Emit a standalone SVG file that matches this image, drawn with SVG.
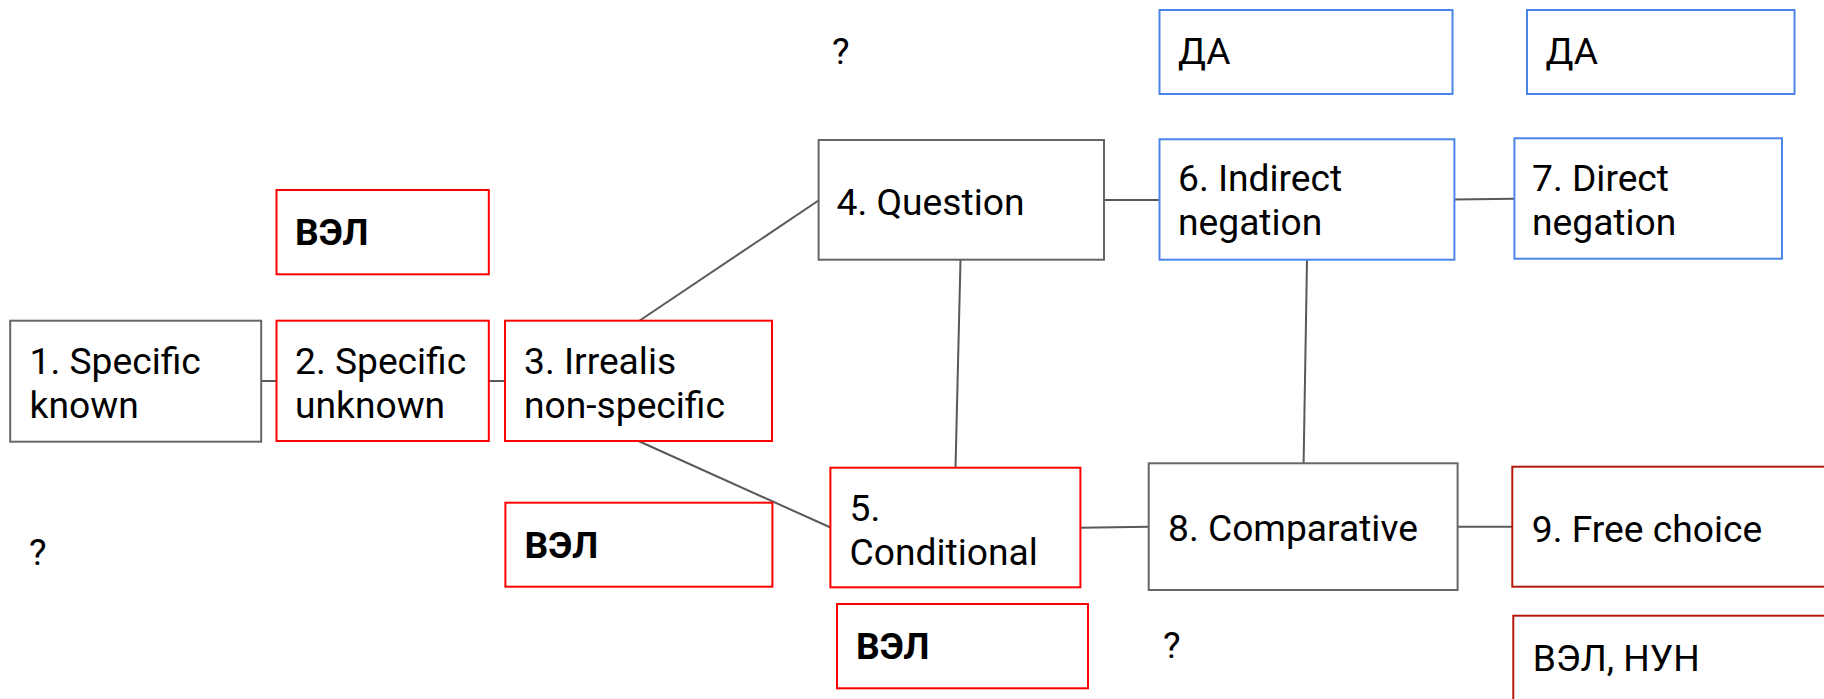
<svg xmlns="http://www.w3.org/2000/svg" width="1824" height="699" viewBox="0 0 1824 699">
<style>
  rect { fill: #ffffff; stroke-width: 2; }
  .g { stroke: #666666; }
  .r { stroke: #ff0000; }
  .b { stroke: #4a86e8; }
  .d { stroke: #b5170d; }
  text { font-family: Roboto, "Liberation Sans", "Noto Sans", sans-serif; font-size: 37.2px; fill: #000000; }
  .bold { font-weight: bold; }
  #connectors line { stroke: #595959; stroke-width: 2; }
</style>
<rect x="0" y="0" width="1824" height="699" style="fill:#ffffff;stroke:none"/>
<g id="connectors">
  <line x1="261" y1="381" x2="277" y2="381"/>
  <line x1="489" y1="381" x2="505" y2="381"/>
  <line x1="639" y1="321" x2="818.5" y2="200.5"/>
  <line x1="638.5" y1="441" x2="830.5" y2="527.5"/>
  <line x1="1104" y1="200" x2="1159.5" y2="200"/>
  <line x1="1454.5" y1="199.5" x2="1514.5" y2="198.7"/>
  <line x1="960.5" y1="260" x2="955.5" y2="468"/>
  <line x1="1307" y1="260" x2="1303.6" y2="463.5"/>
  <line x1="1080.5" y1="527.7" x2="1149" y2="526.8"/>
  <line x1="1457.6" y1="526.7" x2="1512.3" y2="526.7"/>
</g>
<g id="q-top"><text x="832" y="64">?</text></g>
<g id="q-left"><text x="29" y="565">?</text></g>
<g id="q-mid"><text x="1163" y="658">?</text></g>
<g id="da-6"><rect class="b" x="1159.5" y="10" width="293" height="84"/><text x="1178" y="64">ДА</text></g>
<g id="da-7"><rect class="b" x="1527" y="10" width="267.5" height="84"/><text x="1545.5" y="64">ДА</text></g>
<g id="vel-2"><rect class="r" x="276.5" y="190" width="212.3" height="84.3"/><text class="bold" x="295" y="245">ВЭЛ</text></g>
<g id="n1"><rect class="g" x="10.2" y="320.7" width="251" height="121"/><text x="29.6" y="373.5">1. Specific</text><text x="29.6" y="418">known</text></g>
<g id="n2"><rect class="r" x="276.5" y="320.7" width="212.3" height="120.3"/><text x="295" y="373.5">2. Specific</text><text x="295" y="418">unknown</text></g>
<g id="n3"><rect class="r" x="505" y="320.7" width="267" height="120.3"/><text x="524" y="373.5">3. Irrealis</text><text x="524" y="418">non-specific</text></g>
<g id="n4"><rect class="g" x="818.6" y="140" width="285.4" height="119.7"/><text x="836.6" y="214.5">4. Question</text></g>
<g id="n6"><rect class="b" x="1159.5" y="139.3" width="294.9" height="120.4"/><text x="1178" y="191">6. Indirect</text><text x="1178" y="235">negation</text></g>
<g id="n7"><rect class="b" x="1514.4" y="138.3" width="267.6" height="120.4"/><text x="1532" y="191">7. Direct</text><text x="1532" y="235">negation</text></g>
<g id="vel-3"><rect class="r" x="505.4" y="502.7" width="267" height="84"/><text class="bold" x="524.6" y="557.5">ВЭЛ</text></g>
<g id="n5"><rect class="r" x="830.4" y="467.7" width="250" height="119.6"/><text x="849.6" y="521">5.</text><text x="849.6" y="565">Conditional</text></g>
<g id="vel-5"><rect class="r" x="837" y="604" width="251" height="84.3"/><text class="bold" x="856" y="659">ВЭЛ</text></g>
<g id="n8"><rect class="g" x="1148.7" y="463.3" width="308.9" height="126.7"/><text x="1168" y="541">8. Comparative</text></g>
<g id="n9"><rect class="d" x="1512.3" y="466.7" width="330" height="120"/><text x="1531.8" y="541.5">9. Free choice</text></g>
<g id="vel-nun"><rect class="d" x="1513.3" y="615.7" width="330" height="100"/><text x="1532.7" y="670.5">ВЭЛ, НУН</text></g>
</svg>
